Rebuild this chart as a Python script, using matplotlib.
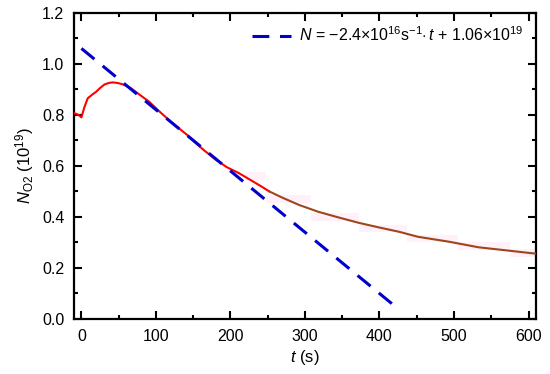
import numpy as np
import matplotlib.pyplot as plt
from matplotlib.ticker import MultipleLocator

plt.rcParams['font.family'] = ['Liberation Sans', 'DejaVu Sans']
plt.rcParams['mathtext.fontset'] = 'custom'
plt.rcParams['mathtext.rm'] = 'Liberation Sans'
plt.rcParams['mathtext.it'] = 'Liberation Sans:italic'

# measured N_O2 (10^19) - early part (red)
t_early = [-10, -4, 0, 4, 8.5, 14, 19.6, 25, 31, 37, 42, 48, 55, 61, 66.5, 78, 91, 104, 118, 130, 142, 149, 165, 180, 195, 211, 225, 240, 252]
n_early = [0.807, 0.80, 0.79, 0.83, 0.865, 0.878, 0.89, 0.905, 0.919, 0.925, 0.927, 0.925, 0.92, 0.912, 0.904, 0.879, 0.851, 0.815, 0.778, 0.749, 0.721, 0.701, 0.66, 0.625, 0.595, 0.572, 0.548, 0.522, 0.50]
# later part (brown)
t_late = [252, 270, 292, 318, 345, 372, 399, 426, 452, 493, 533, 573, 610]
n_late = [0.50, 0.475, 0.447, 0.420, 0.398, 0.377, 0.359, 0.342, 0.322, 0.303, 0.281, 0.268, 0.256]

# linear fit
slope = -0.0024
intercept = 1.06
t_fit = [0, 420]

# faint error band on the later part
t_band = [220, 275, 340, 405, 470, 540, 610]
n_band = [0.56, 0.47, 0.40, 0.355, 0.315, 0.285, 0.258]

fig = plt.figure(figsize=(5.5, 3.74), dpi=100)
ax = fig.add_axes([0.1345, 0.147, 0.84, 0.819])

ax.fill_between(t_band, np.array(n_band) - 0.015, np.array(n_band) + 0.015,
                step='mid', color='#fff0fa', lw=0)
ax.plot(t_early, n_early, color='#ff0000', lw=1.5, zorder=3)
ax.plot(t_late, n_late, color='#a0451a', lw=1.5, zorder=3)
fit_y = [slope * t + intercept for t in t_fit]
ax.plot(t_fit, fit_y, color='#0000cc', lw=2.2, dashes=(5.5, 3.5), zorder=4,
        label=r'$N$ = −2.4×10$^{16}$s$^{-1}$$\cdot$$\,t$ + 1.06×10$^{19}$')

ax.set_xlim(-10, 610)
ax.set_ylim(0, 1.2)
ax.xaxis.set_major_locator(MultipleLocator(100))
ax.xaxis.set_minor_locator(MultipleLocator(50))
ax.yaxis.set_major_locator(MultipleLocator(0.2))
ax.yaxis.set_minor_locator(MultipleLocator(0.1))
ax.yaxis.set_major_formatter(plt.FormatStrFormatter('%.1f'))
ax.tick_params(which='both', direction='in', top=True, right=True, width=1.5,
               labelsize=11.5)
ax.tick_params(axis='x', which='major', pad=7)
ax.tick_params(axis='y', which='major', pad=7)
ax.tick_params(which='major', length=6)
ax.tick_params(which='minor', length=3)
for s in ax.spines.values():
    s.set_linewidth(1.6)

ax.set_xlabel(r'$t$ (s)', fontsize=12, labelpad=3)
ax.set_ylabel(r'$N_{\rm O2}$ (10$^{19}$)', fontsize=12, labelpad=4)

ax.legend(loc='upper right', frameon=False, fontsize=11.5, handlelength=2.4,
          handletextpad=0.5, borderaxespad=0.4)

plt.savefig('out.png', dpi=100)
